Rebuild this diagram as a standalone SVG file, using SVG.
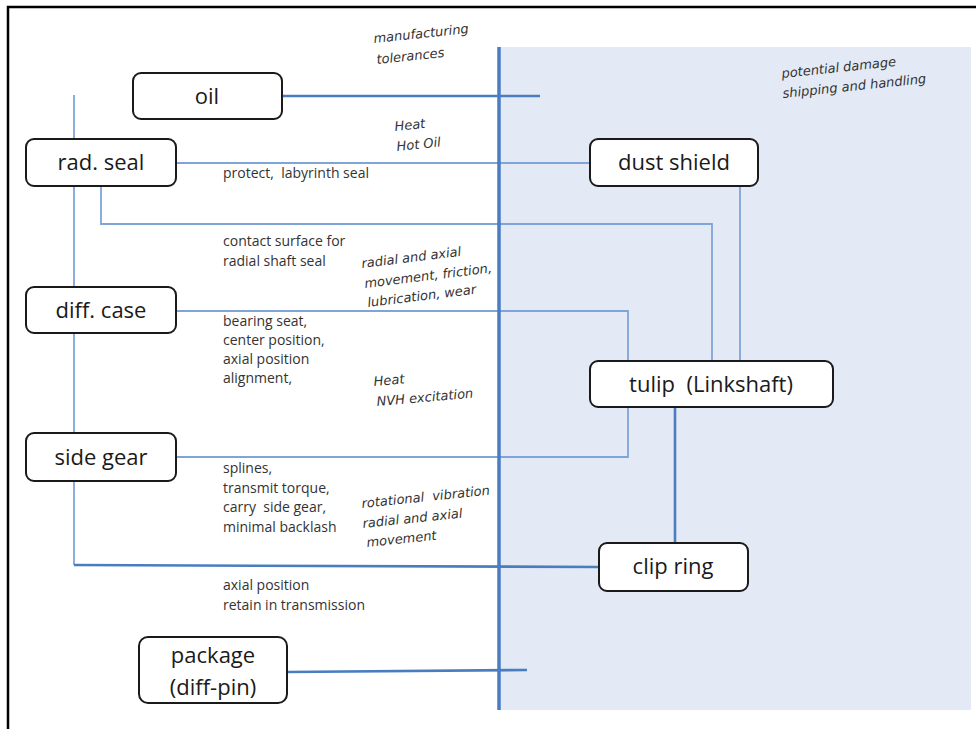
<svg xmlns="http://www.w3.org/2000/svg" width="976" height="729" viewBox="0 0 976 729">
<style>
.box{fill:#fff;stroke:#1a1a1a;stroke-width:2}
.lbl{font-family:"Open Sans","DejaVu Sans",sans-serif;font-size:22px;fill:#1a1a1a;text-anchor:middle}
.t{font-family:"Open Sans","DejaVu Sans",sans-serif;font-size:14px;fill:#333}
.it{font-family:"DejaVu Sans","Open Sans",sans-serif;font-size:13px;font-style:italic;fill:#333}
.thin{fill:none;stroke:#7fa5d8;stroke-width:1.8}
.thick{fill:none;stroke:#4a7dc0;stroke-width:2.6}
</style>
<rect x="0" y="0" width="976" height="729" fill="#fff"/>
<path d="M8 729 V7 H976" fill="none" stroke="#000" stroke-width="2.5"/>
<rect x="499" y="47" width="472" height="663" fill="#e4eaf5"/>
<g id="connectors">
<path class="thin" d="M74 95 V565"/>
<path class="thick" d="M74 565 L600 567"/>
<path class="thick" d="M282 96 H540"/>
<path class="thin" d="M176 163 H590"/>
<path class="thin" d="M101 186 V224 H712 V361"/>
<path class="thin" d="M740 186 V361"/>
<path class="thin" d="M176 311 H628 V457 H176"/>
<path class="thick" d="M675 407 V543"/>
<path class="thick" d="M287 672 L527 670"/>
<path d="M499 47 V710" fill="none" stroke="#4a7dc0" stroke-width="3.5"/>
</g>
<g id="oil"><rect class="box" x="133" y="73" width="149" height="46" rx="8"/><text class="lbl" x="207" y="104">oil</text></g>
<g id="rad-seal"><rect class="box" x="26" y="139" width="150" height="47" rx="8"/><text class="lbl" x="101" y="170">rad. seal</text></g>
<g id="diff-case"><rect class="box" x="26" y="287" width="150" height="46" rx="8"/><text class="lbl" x="101" y="318">diff. case</text></g>
<g id="side-gear"><rect class="box" x="26" y="433" width="150" height="48" rx="8"/><text class="lbl" x="101" y="465">side gear</text></g>
<g id="package"><rect class="box" x="139" y="637" width="148" height="66" rx="9"/><text class="lbl" x="213" y="663">package</text><text class="lbl" x="213" y="695">(diff-pin)</text></g>
<g id="dust-shield"><rect class="box" x="590" y="139" width="168" height="47" rx="8"/><text class="lbl" x="674" y="170">dust shield</text></g>
<g id="tulip"><rect class="box" x="590" y="361" width="243" height="46" rx="8"/><text class="lbl" x="711" y="392" xml:space="preserve">tulip  (Linkshaft)</text></g>
<g id="clip-ring"><rect class="box" x="599" y="543" width="149" height="48" rx="8"/><text class="lbl" x="673" y="574">clip ring</text></g>
<g id="labels">
<text class="t" x="223" y="178" xml:space="preserve">protect,  labyrinth seal</text>
<text class="t" x="223" y="246">contact surface for</text>
<text class="t" x="223" y="266">radial shaft seal</text>
<text class="t" x="223" y="326">bearing seat,</text>
<text class="t" x="223" y="345">center position,</text>
<text class="t" x="223" y="364">axial position</text>
<text class="t" x="223" y="383">alignment,</text>
<text class="t" x="223" y="473">splines,</text>
<text class="t" x="223" y="493">transmit torque,</text>
<text class="t" x="223" y="512" xml:space="preserve">carry  side gear,</text>
<text class="t" x="223" y="532">minimal backlash</text>
<text class="t" x="223" y="590">axial position</text>
<text class="t" x="223" y="610">retain in transmission</text>
<text class="it" transform="translate(374 43) rotate(-6)">manufacturing</text>
<text class="it" transform="translate(377 64) rotate(-6)">tolerances</text>
<text class="it" transform="translate(395 131) rotate(-6)">Heat</text>
<text class="it" transform="translate(397 151) rotate(-6)">Hot Oil</text>
<text class="it" transform="translate(362 268) rotate(-7)">radial and axial</text>
<text class="it" transform="translate(365 288) rotate(-7)">movement, friction,</text>
<text class="it" transform="translate(368 307) rotate(-7)">lubrication, wear</text>
<text class="it" transform="translate(374 386) rotate(-5)">Heat</text>
<text class="it" transform="translate(377 406) rotate(-5)">NVH excitation</text>
<text class="it" transform="translate(362 508) rotate(-6)" xml:space="preserve">rotational  vibration</text>
<text class="it" transform="translate(363 528) rotate(-6)">radial and axial</text>
<text class="it" transform="translate(367 547) rotate(-6)">movement</text>
<text class="it" transform="translate(782 78) rotate(-6)">potential damage</text>
<text class="it" transform="translate(783 98) rotate(-6)">shipping and handling</text>
</g>
</svg>
